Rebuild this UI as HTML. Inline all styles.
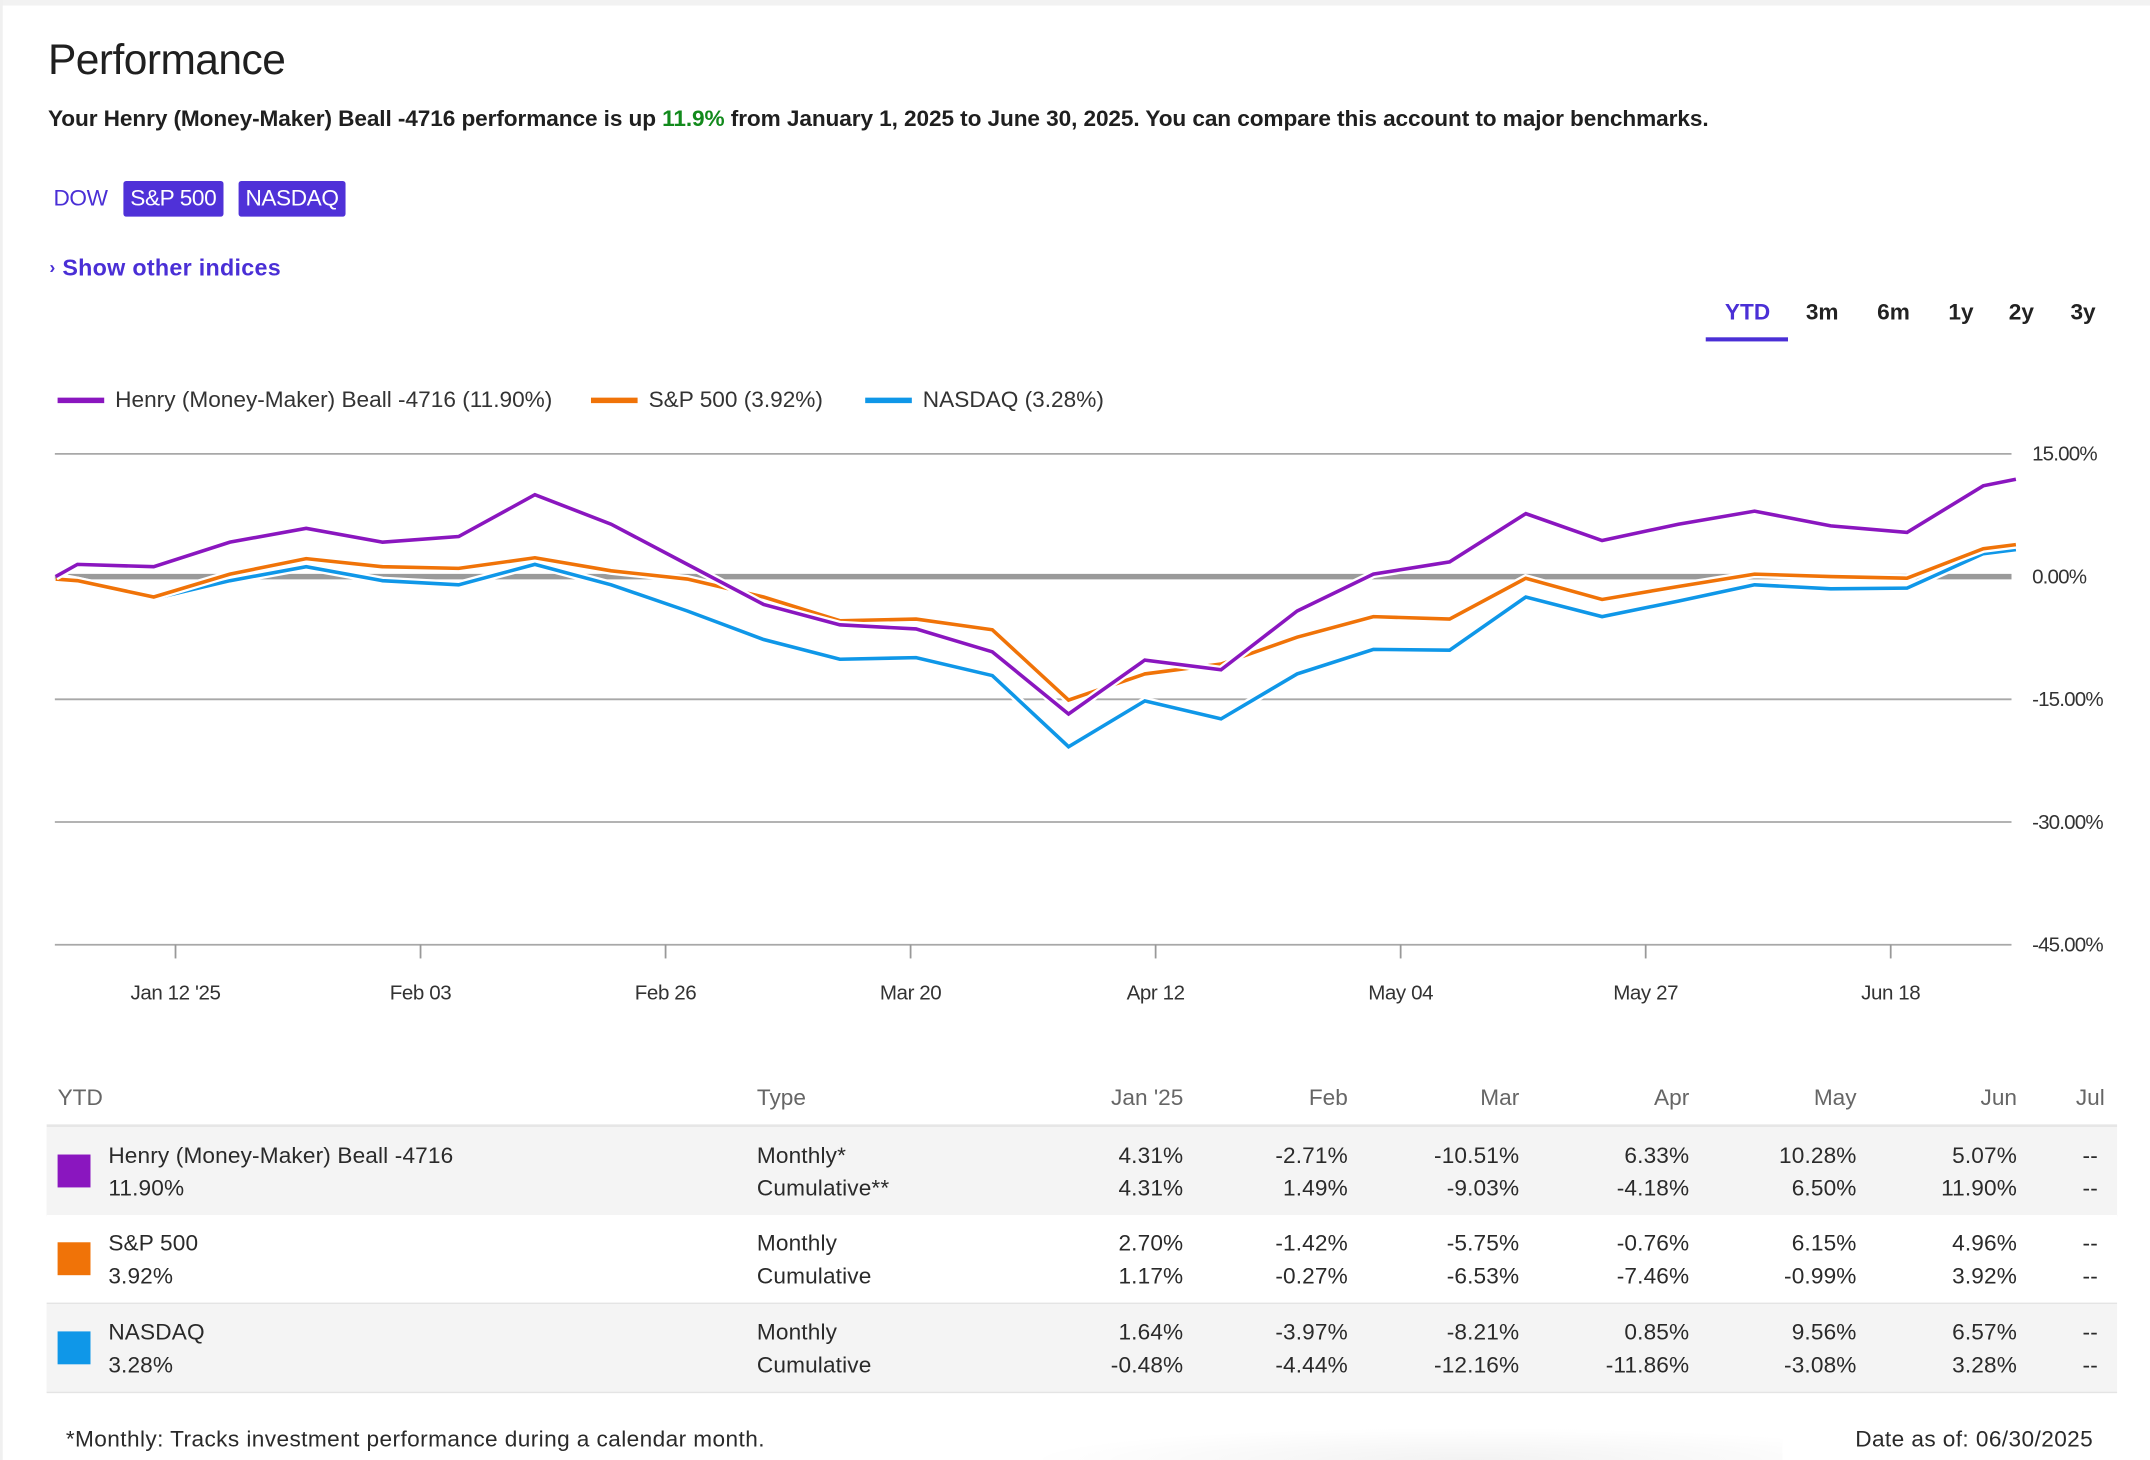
<!DOCTYPE html>
<html><head><meta charset="utf-8">
<style>
html,body{margin:0;padding:0;background:#fff;}
body{width:2150px;height:1460px;overflow:hidden;font-family:"Liberation Sans",sans-serif;color:#222;}
#wrap{position:absolute;left:0;top:0;width:1568px;height:1065px;transform:scale(1.37117);transform-origin:0 0;background:#fff;}
.abs{position:absolute;white-space:nowrap;}
.topbar{left:0;top:0;width:1568px;height:4px;background:#f2f2f2;}
.leftbar{left:0;top:0;width:2px;height:1065px;background:#f0f0f0;}
h1{margin:0;font-weight:normal;font-size:31px;left:35px;top:26px;letter-spacing:-0.4px;color:#1f1f1f;}
.sub{left:35px;top:78px;font-size:16.5px;font-weight:bold;letter-spacing:-0.07px;color:#1f1f1f;}
.green{color:#128a1c;}
.btn{top:132px;height:26px;line-height:26px;font-size:16.5px;color:#4a2fd6;letter-spacing:-0.3px;}
.btn.on{background:#4f31d8;color:#fff;border-radius:2px;padding:0 5px;}
.link{left:36px;top:186px;font-size:17px;font-weight:bold;color:#4a2fd6;letter-spacing:0.2px;}
.tab{top:219px;font-size:16.5px;font-weight:bold;color:#222;}
.leg{top:283px;font-size:16.5px;color:#333;letter-spacing:0px;}
.legsw{top:290px;width:34px;height:4px;}
.th{top:792px;font-size:16.5px;color:#666;}
.row{left:34px;width:1510px;height:64px;border-bottom:1px solid #e4e4e4;}
.cell{font-size:16.5px;color:#2a2a2a;letter-spacing:0.1px;line-height:24px;}
.r{text-align:right;}
.sw{width:24px;height:24px;}
.foot{top:1041px;font-size:16.5px;color:#2a2a2a;letter-spacing:0.3px;}
</style></head><body>
<div id="wrap">
<div class="abs topbar"></div>
<div class="abs leftbar"></div>
<h1 class="abs">Performance</h1>
<div class="abs sub">Your Henry (Money-Maker) Beall -4716 performance is up <span class="green">11.9%</span> from January 1, 2025 to June 30, 2025. You can compare this account to major benchmarks.</div>
<div class="abs btn" style="left:39px">DOW</div>
<div class="abs btn on" style="left:90px">S&amp;P 500</div>
<div class="abs btn on" style="left:174px">NASDAQ</div>
<div class="abs link"><span style="font-size:13px;position:relative;top:-2px">›</span> Show other indices</div>
<div class="abs tab" style="left:1258px;color:#4a2fd6">YTD</div>
<div class="abs" style="left:1244px;top:246px;width:60px;height:3px;background:#4a2fd6"></div>
<div class="abs tab" style="left:1317px">3m</div>
<div class="abs tab" style="left:1369px">6m</div>
<div class="abs tab" style="left:1421px">1y</div>
<div class="abs tab" style="left:1465px">2y</div>
<div class="abs tab" style="left:1510px">3y</div>

<div class="abs legsw" style="left:42px;background:#8a16bf"></div>
<div class="abs leg" style="left:84px">Henry (Money-Maker) Beall -4716 (11.90%)</div>
<div class="abs legsw" style="left:431px;background:#f07308"></div>
<div class="abs leg" style="left:473px">S&amp;P 500 (3.92%)</div>
<div class="abs legsw" style="left:631px;background:#0f97e8"></div>
<div class="abs leg" style="left:673px">NASDAQ (3.28%)</div>

<svg id="chart" class="abs" style="left:0;top:0" width="1568" height="760"></svg>

<div class="abs th" style="left:42px">YTD</div>
<div class="abs th" style="left:552px">Type</div>

<div class="abs" style="left:34px;top:820px;width:1510px;height:2px;background:#e6e6e6"></div>

<div class="abs" style="left:650px;top:1025px;width:650px;height:40px;background:radial-gradient(ellipse 50% 60% at 65% 100%,rgba(0,0,0,0.05),rgba(0,0,0,0))"></div>
<div class="abs foot" style="left:48px">*Monthly: Tracks investment performance during a calendar month.</div>
<div class="abs foot" style="left:1353px">Date as of: 06/30/2025</div>
</div>

<script>
// ---- chart data ----
const days = [0,2,9,16,23,30,37,44,51,58,65,72,79,86,93,100,107,114,121,128,135,142,149,156,163,170,177,180];
const accountVals = [0,1.5,1.2,4.2,5.9,4.2,4.9,10.0,6.4,1.5,-3.4,-5.9,-6.4,-9.2,-16.8,-10.2,-11.4,-4.2,0.3,1.8,7.7,4.4,6.4,8.0,6.2,5.4,11.1,11.9];
const spVals = [-0.3,-0.5,-2.5,0.3,2.2,1.2,1.0,2.3,0.7,-0.3,-2.5,-5.4,-5.2,-6.5,-15.1,-11.9,-10.7,-7.4,-4.9,-5.2,-0.2,-2.8,-1.2,0.3,0,-0.2,3.4,3.9];
const nasdaqVals = [0,-0.5,-2.7,-0.5,1.2,-0.5,-1.0,1.5,-1.0,-4.2,-7.7,-10.1,-9.9,-12.1,-20.8,-15.2,-17.4,-11.9,-8.9,-9.0,-2.5,-4.9,-3.0,-1.0,-1.5,-1.4,2.8,3.3];
const yTicks = [15,0,-15,-30,-45];
const yTickLabels = ["15.00%","0.00%","-15.00%","-30.00%","-45.00%"];
const xTickDays = [11,33.5,56,78.5,101,123.5,146,168.5];
const xTickLabels = ["Jan 12 '25","Feb 03","Feb 26","Mar 20","Apr 12","May 04","May 27","Jun 18"];

const NS="http://www.w3.org/2000/svg";
const svg=document.getElementById('chart');
const X0=40,X1=1467,Y_TOP=331,Y_BOT=689;
function xs(d){return 128+(d-11)*(178.7/22.5);}
function ys(v){return Y_TOP+(15-v)*(Y_BOT-Y_TOP)/60;}
function mk(tag,attrs){const e=document.createElementNS(NS,tag);for(const k in attrs)e.setAttribute(k,attrs[k]);svg.appendChild(e);return e;}

yTicks.forEach((t,i)=>{
  const g=mk('line',{x1:X0,x2:X1,y1:ys(t),y2:ys(t),stroke:t===0?'#9a9a9a':'#a8a8a8','stroke-width':t===0?4:1.3});
  
  
  const tx=mk('text',{x:1482,y:ys(t)+5,'font-size':15,fill:'#333','font-family':'Liberation Sans, sans-serif','letter-spacing':'-0.6'});
  tx.textContent=yTickLabels[i];
  
  
});
xTickDays.forEach((d,i)=>{
  const l=mk('line',{x1:xs(d),x2:xs(d),y1:Y_BOT,y2:Y_BOT+10,stroke:'#999','stroke-width':1.3});
  
  
  const tx=mk('text',{x:xs(d),y:729,'font-size':15,fill:'#333','text-anchor':'middle','font-family':'Liberation Sans, sans-serif','letter-spacing':'-0.3'});
  tx.textContent=xTickLabels[i];
  
  
});
function series(vals,color,name){
  const pts=vals.map((v,i)=>xs(days[i]).toFixed(1)+','+ys(v).toFixed(1)).join(' ');
  const h=mk('polyline',{points:pts,fill:'none',stroke:'#fff','stroke-width':6,'stroke-linejoin':'miter'});
  
  
  const p=mk('polyline',{points:pts,fill:'none',stroke:color,'stroke-width':2.6,'stroke-linejoin':'miter'});
  
  
}
series(nasdaqVals,'#0f97e8','nasdaq');
series(spVals,'#f07308','sp500');
series(accountVals,'#8a16bf','account');

// ---- table ----
const months=["Jan '25","Feb","Mar","Apr","May","Jun","Jul"];
const monthRight=[863,983,1108,1232,1354,1471,1535];
const wrap=document.getElementById('wrap');
months.forEach((m,i)=>{
  const d=document.createElement('div');
  d.className='abs th';
  d.style.left=(monthRight[i]-120)+'px';d.style.width='120px';d.style.textAlign='right';
  d.textContent=m;
  
  
  wrap.appendChild(d);
});
const rowNames=["Henry (Money-Maker) Beall -4716","S&P 500","NASDAQ"];
const rowTotals=["11.90%","3.92%","3.28%"];
const rowColors=["#8a16bf","#f07308","#0f97e8"];
const rowTypes=[["Monthly*","Cumulative**"],["Monthly","Cumulative"],["Monthly","Cumulative"]];
const monthly=[["4.31%","-2.71%","-10.51%","6.33%","10.28%","5.07%","--"],["2.70%","-1.42%","-5.75%","-0.76%","6.15%","4.96%","--"],["1.64%","-3.97%","-8.21%","0.85%","9.56%","6.57%","--"]];
const cumulative=[["4.31%","1.49%","-9.03%","-4.18%","6.50%","11.90%","--"],["1.17%","-0.27%","-6.53%","-7.46%","-0.99%","3.92%","--"],["-0.48%","-4.44%","-12.16%","-11.86%","-3.08%","3.28%","--"]];
const cellRight=[863,983,1108,1232,1354,1471,1535];
rowNames.forEach((n,r)=>{
  const top=822+r*64.3;
  const row=document.createElement('div');
  row.className='abs row';row.style.top=top+'px';row.style.background=r===1?'#fff':'#f4f4f4';
  
  
  wrap.insertBefore(row,wrap.querySelector('.foot'));
  const sw=document.createElement('div');
  sw.className='abs sw';sw.style.left='42px';sw.style.top=(top+20)+'px';sw.style.background=rowColors[r];
  
  
  wrap.appendChild(sw);
  const nm=document.createElement('div');
  nm.className='abs cell';nm.style.left='79px';nm.style.top=(top+9)+'px';
  nm.innerHTML=n.replace('&','&amp;')+'<br>'+rowTotals[r];
  
  
  wrap.appendChild(nm);
  const ty=document.createElement('div');
  ty.className='abs cell';ty.style.left='552px';ty.style.top=(top+9)+'px';
  ty.innerHTML=rowTypes[r][0]+'<br>'+rowTypes[r][1];
  
  
  wrap.appendChild(ty);
  months.forEach((m,i)=>{
    const c=document.createElement('div');
    c.className='abs cell r';c.style.left=(cellRight[i]-(i===6?5:0)-120)+'px';c.style.width='120px';c.style.top=(top+9)+'px';
    c.innerHTML=monthly[r][i]+'<br>'+cumulative[r][i];
    
    
    wrap.appendChild(c);
  });
});
</script>
</body></html>
